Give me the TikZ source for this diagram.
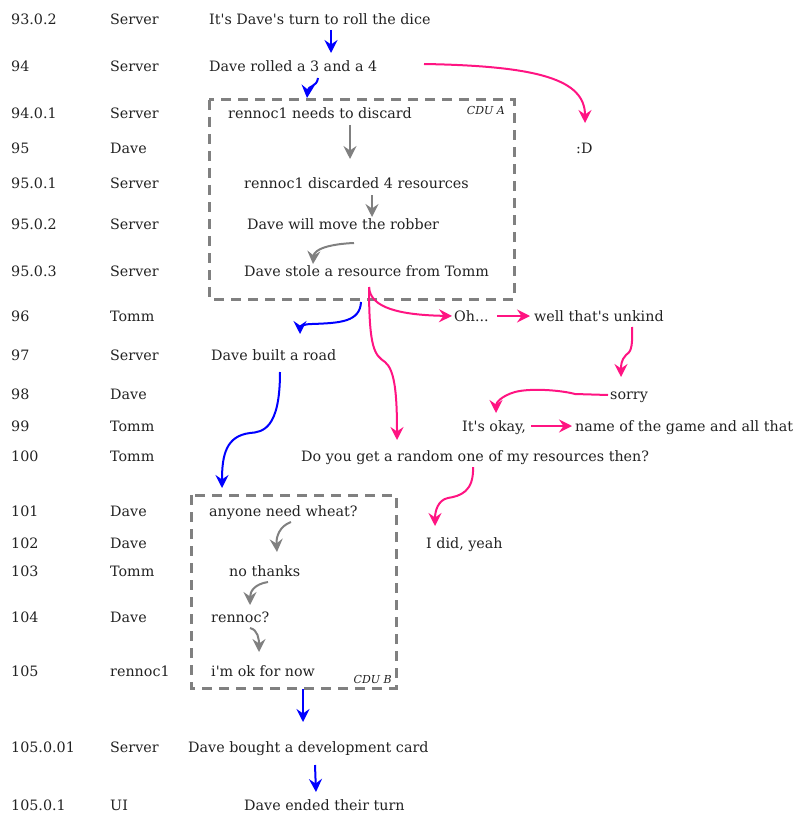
\documentclass[tikz,border=0pt]{standalone}
\usepackage{fontspec}
\setmainfont{DejaVu Serif}[Ligatures=TeXOff]
\usetikzlibrary{arrows.meta}
\definecolor{pinkc}{RGB}{255,20,130}
\definecolor{grayc}{RGB}{128,128,128}
\definecolor{txtc}{RGB}{34,34,34}
\begin{document}
\begin{tikzpicture}[x=1pt,y=-1pt,
  txt/.style={anchor=base west,inner sep=0pt,text=txtc,font=\fontsize{14.3}{17}\selectfont},
  cdulbl/.style={anchor=base east,inner sep=0pt,text=txtc,font=\fontsize{11}{13}\selectfont\itshape},
  cdubox/.style={draw=grayc,line width=3pt,dash pattern=on 10pt off 7pt},
  arr/.style={line width=2pt,-{Stealth[length=13pt,width=13pt,inset=4.5pt]}},
  bluearr/.style={arr,draw=blue},
  grayarr/.style={arr,draw=grayc},
  pinkarr/.style={arr,draw=pinkc}]
\useasboundingbox (0,0) rectangle (793,813);
% id column
\foreach \n/\id/\sp/\b in {r1/93.0.2/Server/25, r2/94/Server/72, r3/94.0.1/Server/119, r4/95/Dave/154,
  r5/95.0.1/Server/189, r6/95.0.2/Server/229, r7/95.0.3/Server/276, r8/96/Tomm/321, r9/97/Server/360,
  r10/98/Dave/399, r11/99/Tomm/431, r12/100/Tomm/461, r13/101/Dave/516, r14/102/Dave/548,
  r15/103/Tomm/576, r16/104/Dave/622, r17/105/rennoc1/676, r18/105.0.01/Server/752, r19/105.0.1/UI/810}{
  \node[txt] (\n id) at (11,\b) {\id};
  \node[txt] (\n sp) at (110,\b) {\sp};
}
% CDU boxes
\draw[cdubox] (209,100) rectangle (514,299);
\node[cdulbl] (cduA) at (505,115) {CDU A};
\draw[cdubox] (191,495) rectangle (396,688);
\node[cdulbl] (cduB) at (392,683) {CDU B};
% texts
\node[txt] (t1) at (209,25) {It's Dave's turn to roll the dice};
\node[txt] (t2) at (209,72) {Dave rolled a 3 and a 4};
\node[txt] (t3) at (228,119) {rennoc1 needs to discard};
\node[txt] (t4) at (576,154) {:D};
\node[txt] (t5) at (244,189) {rennoc1 discarded 4 resources};
\node[txt] (t6) at (247,229) {Dave will move the robber};
\node[txt] (t7) at (244,276) {Dave stole a resource from Tomm};
\node[txt] (t8a) at (454,321) {Oh...};
\node[txt] (t8b) at (534,321) {well that's unkind};
\node[txt] (t9) at (211,360) {Dave built a road};
\node[txt] (t10) at (610,399) {sorry};
\node[txt] (t11a) at (462,431) {It's okay,};
\node[txt] (t11b) at (575,431) {name of the game and all that};
\node[txt] (t12) at (301,461) {Do you get a random one of my resources then?};
\node[txt] (t13) at (209,516) {anyone need wheat?};
\node[txt] (t14) at (426,548) {I did, yeah};
\node[txt] (t15) at (229,576) {no thanks};
\node[txt] (t16) at (211,622) {rennoc?};
\node[txt] (t17) at (211,676) {i'm ok for now};
\node[txt] (t18) at (188,752) {Dave bought a development card};
\node[txt] (t19) at (244,810) {Dave ended their turn};
% connector endpoints
\coordinate (b1s) at (331,30);  \coordinate (b1e) at (331,53);
\coordinate (b2s) at (318,78);  \coordinate (b2e) at (307,98);
\coordinate (b3s) at (361,302); \coordinate (b3e) at (300,334);
\coordinate (b4s) at (280,372); \coordinate (b4e) at (222,488);
\coordinate (b5s) at (303,689); \coordinate (b5e) at (303,722);
\coordinate (b6s) at (315,765); \coordinate (b6e) at (316,792);
\coordinate (g1s) at (350,125); \coordinate (g1e) at (350,159);
\coordinate (g2s) at (372,195); \coordinate (g2e) at (372,217);
\coordinate (g3s) at (354,243); \coordinate (g3e) at (313,264);
\coordinate (g4s) at (291,522); \coordinate (g4e) at (277,552);
\coordinate (g5s) at (268,582); \coordinate (g5e) at (250,605);
\coordinate (g6s) at (250,628); \coordinate (g6e) at (259,652);
\coordinate (p1s) at (424,64);  \coordinate (p1e) at (585,123);
\coordinate (p2s) at (369,287); \coordinate (p2e) at (452,316);
\coordinate (p3e) at (397,440);
\coordinate (p4s) at (497,316); \coordinate (p4e) at (530,316);
\coordinate (p5s) at (632,327); \coordinate (p5e) at (621,377);
\coordinate (p6s) at (608,395); \coordinate (p6e) at (496,413);
\coordinate (p7s) at (531,426); \coordinate (p7e) at (572,426);
\coordinate (p8s) at (473,467); \coordinate (p8e) at (435,526);
% blue
\draw[bluearr] (b1s) -- (b1e);
\draw[bluearr] (b2s) .. controls (317,87) and (308,86) .. (b2e);
\draw[bluearr] (b3s) .. controls (360,322) and (340,323) .. (312,324) .. controls (303,324) and (300,327) .. (b3e);
\draw[bluearr] (b4s) .. controls (280,430) and (262,432) .. (250,433) .. controls (226,436) and (222,455) .. (b4e);
\draw[bluearr] (b5s) -- (b5e);
\draw[bluearr] (b6s) -- (b6e);
% gray
\draw[grayarr] (g1s) -- (g1e);
\draw[grayarr] (g2s) -- (g2e);
\draw[grayarr] (g3s) .. controls (330,244) and (314,249) .. (g3e);
\draw[grayarr] (g4s) .. controls (280,526) and (276,536) .. (g4e);
\draw[grayarr] (g5s) .. controls (255,584) and (250,591) .. (g5e);
\draw[grayarr] (g6s) .. controls (258,630) and (259,639) .. (g6e);
% pink
\draw[pinkarr] (p1s) .. controls (540,66) and (585,80) .. (p1e);
\draw[pinkarr] (p2s) .. controls (370,308) and (400,315) .. (p2e);
\draw[pinkarr] (p2s) .. controls (369,350) and (375,355) .. (385,362) .. controls (395,370) and (397,395) .. (p3e);
\draw[pinkarr] (p4s) -- (p4e);
\draw[pinkarr] (p5s) .. controls (633,350) and (630,352) .. (626,355) .. controls (621,360) and (621,366) .. (p5e);
\draw[pinkarr] (p6s) -- (575,394) .. controls (560,390) and (530,388) .. (515,392) .. controls (501,396) and (496,403) .. (p6e);
\draw[pinkarr] (p7s) -- (p7e);
\draw[pinkarr] (p8s) .. controls (474,492) and (460,496) .. (448,498) .. controls (438,500) and (435,511) .. (p8e);
\end{tikzpicture}
\end{document}
